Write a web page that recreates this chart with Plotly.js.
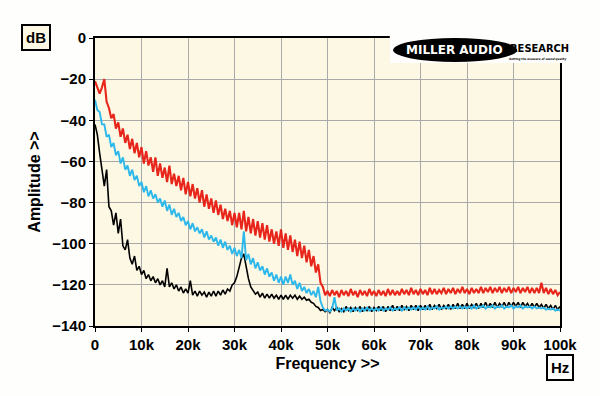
<!DOCTYPE html>
<html>
<head>
<meta charset="utf-8">
<script src="https://cdn.plot.ly/plotly-3.0.1.min.js"></script>
<style>
html,body{margin:0;padding:0;background:#fefefd;}
#chart{width:600px;height:396px;}
</style>
</head>
<body>
<div id="chart"></div>
<script>
// Frequency bins: start 0 Hz, step 500 Hz (201 bins, 0..100 kHz)
const binStartHz = 0;
const binStepHz = 500;

const xTickVals = [0,10000,20000,30000,40000,50000,60000,70000,80000,90000,100000];
const xTickText = ['0','10k','20k','30k','40k','50k','60k','70k','80k','90k','100k'];
const yTickVals = [0,-20,-40,-60,-80,-100,-120,-140];

// Red trace (dB)
const redDb = [
-21,-24,-27,-24,-20,-31,-34,-39,-37,-44,
-41,-48,-44,-51,-47,-54,-49,-56,-51,-58,
-53,-61,-55,-62,-58,-65,-58,-67,-61,-68,
-63,-70,-62,-71,-66,-72,-67,-74,-68,-76,
-70,-77,-71,-78,-73,-80,-74,-82,-76,-83,
-78,-85,-79,-86,-81,-88,-83,-89,-84,-91,
-85,-92,-85,-93,-84,-94,-87,-95,-88,-96,
-89,-97,-90,-98,-91,-99,-93,-100,-94,-101,
-93,-102,-95,-103,-96,-104,-98,-106,-99,-107,
-101,-109,-103,-111,-106,-114,-110,-119,-121,-125,
-123,-125.5,-122.5,-125,-123,-126,-122.5,-125,-123,-125.5,
-122,-125,-123,-126,-122.5,-125,-123,-125.5,-122,-125,
-123,-125.5,-122.5,-125,-123,-125.5,-122,-125,-122.5,-125,
-123,-125,-122,-124.5,-122.5,-125,-121.5,-124.5,-122.5,-125,
-122,-124.5,-122.5,-125,-121.5,-124.5,-122,-124.5,-122.5,-124,
-121.5,-124.5,-122,-124,-121.5,-124.5,-122,-124,-121,-124,
-122,-124.5,-121.5,-124,-122,-124,-121,-124,-121.5,-123.5,
-121,-124,-121.5,-123.5,-121,-124,-121.5,-123.5,-121,-124,
-121.5,-123.5,-121,-124,-121.5,-123.5,-121,-124,-121.5,-124,
-121.5,-124,-119,-124,-121.5,-124.5,-122,-124.5,-122.5,-125,
-123.5
];

// Light blue trace (dB)
const blueDb = [
-30,-35,-36,-42,-42,-48,-47,-53,-51,-57,
-55,-61,-58,-64,-62,-67,-64,-69,-67,-72,
-70,-75,-72,-77,-74,-78,-76,-80,-78,-82,
-79,-84,-81,-86,-83,-87,-85,-89,-87,-91,
-89,-93,-90,-94,-92,-95,-93,-97,-94,-98,
-96,-99,-97,-101,-98,-102,-99,-103,-101,-105,
-102,-106,-103,-107,-94,-108,-105,-110,-107,-112,
-109,-113,-111,-115,-112,-116,-114,-118,-115,-119,
-116,-120,-116,-119,-115,-120,-118,-122,-119,-123,
-121,-124,-122,-125,-123,-126,-121,-128,-131,-132.5,
-132,-133,-131.5,-126,-132.5,-131.5,-133,-131.5,-132.5,-131.5,
-133,-131.5,-132.5,-131.5,-133,-131.5,-132.5,-131,-132.5,-131.5,
-132.5,-131.5,-132.5,-131,-132.5,-131.5,-132,-131,-132.5,-131.5,
-132,-131,-132.5,-131,-132,-131,-132,-131,-132,-130.5,
-132,-131,-132,-130.5,-132,-131,-131.5,-130.5,-132,-131,
-131.5,-130.5,-131.5,-130.5,-131.5,-130.5,-131.5,-130.5,-131.5,-130.5,
-131.5,-130.5,-131.5,-130,-131.5,-130.5,-131,-130,-131.5,-130.5,
-131,-130,-131.5,-130.5,-131,-130,-131.5,-130.5,-131,-130,
-131.5,-130.5,-131,-130,-131.5,-130.5,-131,-130.5,-131.5,-130.5,
-131.5,-131,-131.5,-131,-132,-131.5,-132,-131.5,-132.5,-132,
-132.5
];

// Black trace (dB)
const blackDb = [
-42,-47,-56,-64,-72,-64,-82,-84,-91,-85,
-95,-88,-101,-103,-98,-107,-110,-106,-113,-111,
-115,-113,-117,-115,-118,-116,-119,-117,-120,-118,
-121,-112,-121,-119,-122,-120,-123,-121,-124,-122,
-124,-118,-125,-123,-125.5,-123,-125,-123.5,-126,-123.5,
-125.5,-123,-125.5,-123,-125,-122.5,-124.5,-122,-123,-120,
-119,-116,-112,-107,-105,-111,-117,-121,-123,-124.5,
-123.5,-126,-124,-126.5,-124.5,-126.5,-124.5,-126.5,-125,-127,
-125,-127,-125,-127,-125,-126.5,-125,-127,-125.5,-127,
-126,-127.5,-127,-128.5,-129,-130.5,-131,-132.5,-132,-133,
-132,-133.5,-131,-132.5,-131,-133,-131.5,-133,-130.5,-132.5,
-131,-133,-131,-132.5,-130.5,-133,-131,-132.5,-130.5,-133,
-131,-132.5,-130.5,-132.5,-130.5,-133,-130.5,-132.5,-130,-132.5,
-130.5,-132.5,-130,-132,-130.5,-132.5,-130,-132,-130,-132.5,
-130,-132,-130,-132,-129.5,-132,-130,-131.5,-129.5,-132,
-130,-131.5,-129.5,-132,-129.5,-131.5,-129,-131.5,-129.5,-131.5,
-129,-131.5,-129.5,-131,-129,-131.5,-129,-131,-128.5,-131,
-129,-131,-128.5,-131,-129,-130.5,-128.5,-131,-128.5,-130.5,
-128.5,-130.5,-128.5,-131,-128.5,-130.5,-129,-131,-129,-131,
-129,-131,-129.5,-131.5,-129.5,-131.5,-130,-132,-130,-132,
-130.5
];

const tickFont = {family: 'Liberation Sans, Arial, sans-serif', size: 15, color: '#000', weight: 'bold'};
const titleFont = {family: 'Liberation Sans, Arial, sans-serif', size: 16, color: '#000', weight: 'bold'};

const traces = [
  {type: 'scatter', mode: 'lines', name: 'black', x0: binStartHz, dx: binStepHz, y: blackDb,
   line: {color: '#000000', width: 1.6}, hoverinfo: 'skip'},
  {type: 'scatter', mode: 'lines', name: 'blue', x0: binStartHz, dx: binStepHz, y: blueDb,
   line: {color: '#2db8ec', width: 1.9}, hoverinfo: 'skip'},
  {type: 'scatter', mode: 'lines', name: 'red', x0: binStartHz, dx: binStepHz, y: redDb,
   line: {color: '#e8251a', width: 2.1}, hoverinfo: 'skip'}
];

const layout = {
  width: 600, height: 396,
  margin: {l: 95, r: 40, t: 38, b: 70},
  paper_bgcolor: '#fefefd',
  plot_bgcolor: '#fcf8e3',
  showlegend: false,
  font: tickFont,
  xaxis: {
    range: [0, 100000], tickvals: xTickVals, ticktext: xTickText,
    showgrid: true, gridcolor: '#a9a9a9', gridwidth: 1,
    zeroline: false, showline: true, linecolor: '#000', linewidth: 2, mirror: true,
    ticks: 'outside', ticklen: 4, tickwidth: 1, tickcolor: '#000',
    tickfont: tickFont,
    title: {text: 'Frequency >>', font: titleFont, standoff: 6}
  },
  yaxis: {
    range: [-140, 0], tickvals: yTickVals,
    showgrid: true, gridcolor: '#a9a9a9', gridwidth: 1,
    zeroline: false, showline: true, linecolor: '#000', linewidth: 2, mirror: true,
    ticks: 'outside', ticklen: 4, tickwidth: 1, tickcolor: '#000',
    tickfont: tickFont,
    title: {text: 'Amplitude >>', font: titleFont, standoff: 8}
  },
  shapes: [
    {type: 'rect', xref: 'paper', yref: 'paper', x0: 0.634, x1: 1.017, y0: 0.913, y1: 1.02,
     fillcolor: '#fefefd', line: {width: 0}, layer: 'above'},
    {type: 'circle', xref: 'paper', yref: 'paper', x0: 0.641, x1: 0.908, y0: 0.917, y1: 1.0,
     fillcolor: '#000', line: {color: '#000', width: 0}, layer: 'above'}
  ],
  annotations: [
    {text: 'dB', xref: 'paper', yref: 'paper', x: -0.127, y: 1.003, xanchor: 'center', yanchor: 'middle',
     showarrow: false, font: {family: 'Liberation Sans, Arial, sans-serif', size: 15, weight: 'bold', color: '#000'},
     bordercolor: '#000', borderwidth: 2, borderpad: 3, bgcolor: '#fcf8e3'},
    {text: 'Hz', xref: 'paper', yref: 'paper', x: 1.0, y: -0.143, xanchor: 'center', yanchor: 'middle',
     showarrow: false, font: {family: 'Liberation Sans, Arial, sans-serif', size: 15, weight: 'bold', color: '#000'},
     bordercolor: '#000', borderwidth: 2, borderpad: 3, bgcolor: '#fefefd'},
    {text: 'MILLER AUDIO', xref: 'paper', yref: 'paper', x: 0.774, y: 0.958, xanchor: 'center', yanchor: 'middle',
     showarrow: false, font: {family: 'DejaVu Sans, sans-serif', size: 12, weight: 'bold', color: '#fff'}},
    {text: 'RESEARCH', xref: 'paper', yref: 'paper', x: 0.955, y: 0.964, xanchor: 'center', yanchor: 'middle',
     showarrow: false, font: {family: 'DejaVu Sans Condensed, DejaVu Sans, sans-serif', size: 11, weight: 'bold', color: '#000'}},
    {text: '<i>Getting the measure of sound quality</i>', xref: 'paper', yref: 'paper', x: 0.952, y: 0.927, xanchor: 'center', yanchor: 'middle',
     showarrow: false, font: {family: 'DejaVu Sans Condensed, DejaVu Sans, sans-serif', size: 3, weight: 'bold', color: '#000'}}
  ]
};

Plotly.newPlot('chart', traces, layout, {staticPlot: true, displayModeBar: false});
</script>
</body>
</html>
